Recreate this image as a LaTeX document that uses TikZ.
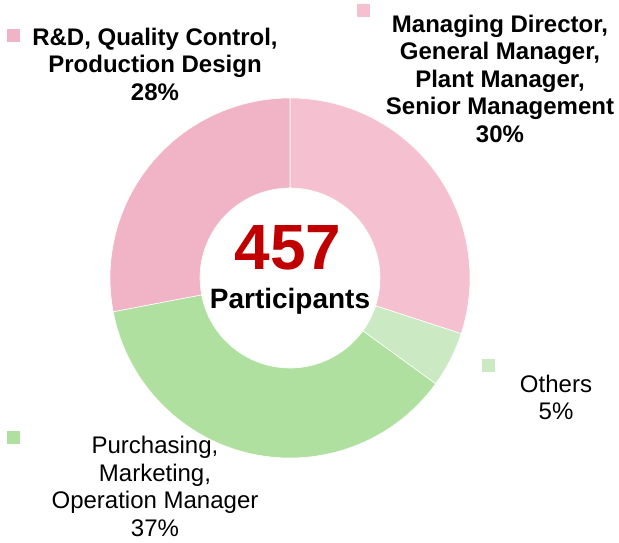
\documentclass[tikz,border=0pt]{standalone}
\usepackage{fontspec}
\setmainfont{Liberation Sans}
\definecolor{mdpink}{HTML}{F5C1D1}
\definecolor{rdpink}{HTML}{F1B3C6}
\definecolor{othgreen}{HTML}{CBEAC3}
\definecolor{purgreen}{HTML}{AFE0A0}
\definecolor{numred}{HTML}{C00000}
\newcommand{\lbl}[1]{\begin{tabular}[t]{@{}c@{}}#1\end{tabular}}
\tikzset{
  labeltext/.style={anchor=base, inner sep=0pt, font=\fontsize{24}{27.4}\selectfont},
  boldlabel/.style={labeltext, font=\fontsize{24}{27.4}\selectfont\bfseries},
  legendsq/.style={inner sep=0pt, minimum size=13pt, anchor=south west},
  sector/.style={draw=white, line width=0.6pt}
}
\begin{document}
\begin{tikzpicture}[x=1pt,y=1pt]
\useasboundingbox[fill=white] (0,0) rectangle (619,543);
\begin{scope}[shift={(290,265)}]
  \fill[mdpink,sector] (90:180) arc[start angle=90,end angle=-18,radius=180] -- (-18:90) arc[start angle=-18,end angle=90,radius=90] -- cycle;
  \fill[othgreen,sector] (-18:180) arc[start angle=-18,end angle=-36,radius=180] -- (-36:90) arc[start angle=-36,end angle=-18,radius=90] -- cycle;
  \fill[purgreen,sector] (-36:180) arc[start angle=-36,end angle=-169.2,radius=180] -- (-169.2:90) arc[start angle=-169.2,end angle=-36,radius=90] -- cycle;
  \fill[rdpink,sector] (-169.2:180) arc[start angle=-169.2,end angle=-270,radius=180] -- (-270:90) arc[start angle=-270,end angle=-169.2,radius=90] -- cycle;
\end{scope}
% centre text
\node[anchor=base, inner sep=0pt, text=numred, font=\fontsize{64}{64}\selectfont\bfseries] (total) at (288,273.7) {457};
\node[anchor=base, inner sep=0pt, font=\fontsize{28}{28}\selectfont\bfseries] (part) at (290,234.7) {Participants};
% legend squares
\node[legendsq, fill=rdpink] (sqrd) at (7,501) {};
\node[legendsq, fill=mdpink] (sqmd) at (357,526) {};
\node[legendsq, fill=othgreen] (sqoth) at (482,171) {};
\node[legendsq, fill=purgreen] (sqpur) at (7,99) {};
% labels
\node[boldlabel] (lrd) at (155,497.5) {\lbl{R\&D, Quality Control,\\Production Design\\28\%}};
\node[boldlabel] (lmd) at (500,510.5) {\lbl{Managing Director,\\General Manager,\\Plant Manager,\\Senior Management\\30\%}};
\node[labeltext] (loth) at (556,150.7) {\lbl{Others\\5\%}};
\node[labeltext] (lpur) at (155,89) {\lbl{Purchasing,\\Marketing,\\Operation Manager\\37\%}};
\end{tikzpicture}
\end{document}
